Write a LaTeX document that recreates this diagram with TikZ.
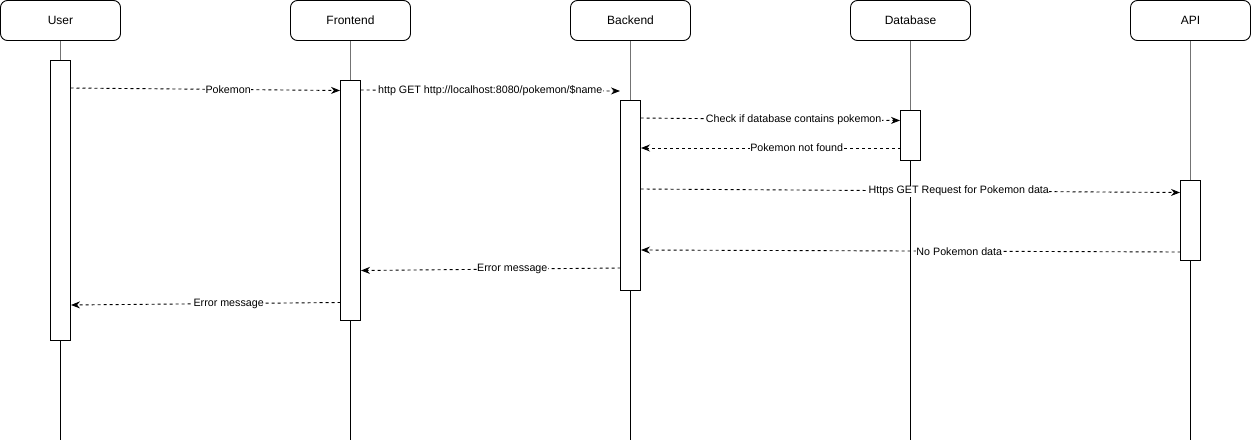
\documentclass[tikz,border=0pt]{standalone}
\usepackage{fontspec}
\setmainfont{Liberation Sans}
\usetikzlibrary{arrows.meta}
\begin{document}
\begin{tikzpicture}[x=1pt,y=-1pt,
  party/.style={draw,rounded corners=7pt,line width=0.9pt,minimum width=120pt,minimum height=40pt,inner sep=0pt,font=\fontsize{12}{14}\selectfont},
  act/.style={draw,fill=white,line width=0.9pt},
  lifetop/.style={black!55,line width=1.6pt},
  life/.style={black,line width=0.8pt},
  msg/.style={dash pattern=on 3pt off 3pt,line width=0.9pt,-{Stealth[length=9pt,width=7pt]}},
  lbl/.style={fill=white,inner sep=0.5pt,font=\fontsize{10.7}{13}\selectfont}]
\useasboundingbox (0,0) rectangle (1251,442);
% participants
\node[party] (user) at (60.5,20.5) {User};
\node[party] (front) at (350.5,20.5) {Frontend};
\node[party] (back) at (630.5,20.5) {Backend};
\node[party] (db) at (910.5,20.5) {Database};
\node[party] (api) at (1190.5,20.5) {API};
% lifeline ends
\coordinate (userE) at (60.5,440);
\coordinate (frontE) at (350.5,440);
\coordinate (backE) at (630.5,440);
\coordinate (dbE) at (910.5,440);
\coordinate (apiE) at (1190.5,440);
\coordinate (userA) at (60.5,60);
\coordinate (frontA) at (350.5,80);
\coordinate (backA) at (630.5,100);
\coordinate (dbA) at (910.5,110);
\coordinate (apiA) at (1190.5,180);
\draw[lifetop] (user.south) -- (userA);
\draw[lifetop] (front.south) -- (frontA);
\draw[lifetop] (back.south) -- (backA);
\draw[lifetop] (db.south) -- (dbA);
\draw[lifetop] (api.south) -- (apiA);
\draw[life] (userA) -- (userE);
\draw[life] (frontA) -- (frontE);
\draw[life] (backA) -- (backE);
\draw[life] (dbA) -- (dbE);
\draw[life] (apiA) -- (apiE);
% activations
\draw[act] (50.5,60.5) rectangle (70.5,340.5);
\draw[act] (340.5,80.5) rectangle (360.5,320.5);
\draw[act] (620.5,100.5) rectangle (640.5,290.5);
\draw[act] (900.5,110.5) rectangle (920.5,160.5);
\draw[act] (1180.5,180.5) rectangle (1200.5,260.5);
% message endpoints
\coordinate (m1s) at (70.5,88);   \coordinate (m1e) at (340,90.5);
\coordinate (m2s) at (360.5,90);  \coordinate (m2e) at (620,91);
\coordinate (m3s) at (640.5,118); \coordinate (m3e) at (900,120.5);
\coordinate (m4s) at (900.5,148); \coordinate (m4e) at (641,148);
\coordinate (m5s) at (640.5,189); \coordinate (m5e) at (1180,192.5);
\coordinate (m6s) at (1180.5,252); \coordinate (m6e) at (641,250);
\coordinate (m7s) at (620.5,268); \coordinate (m7e) at (361,270.5);
\coordinate (m8s) at (340.5,302.5); \coordinate (m8e) at (71,305);
% messages
\draw[msg] (m1s) -- node[lbl,pos=0.585] {Pokemon} (m1e);
\draw[msg] (m2s) -- node[lbl,pos=0.5] {http GET http://localhost:8080/pokemon/\$name} (m2e);
\draw[msg] (m3s) -- node[lbl,pos=0.59] {Check if database contains pokemon} (m3e);
\draw[msg] (m4s) -- node[lbl,pos=0.40] {Pokemon not found} (m4e);
\draw[msg] (m5s) -- node[lbl,pos=0.59] {Https GET Request for Pokemon data} (m5e);
\draw[msg] (m6s) -- node[lbl,pos=0.41] {No Pokemon data} (m6e);
\draw[msg] (m7s) -- node[lbl,pos=0.417] {Error message} (m7e);
\draw[msg] (m8s) -- node[lbl,pos=0.415] {Error message} (m8e);
\end{tikzpicture}
\end{document}
